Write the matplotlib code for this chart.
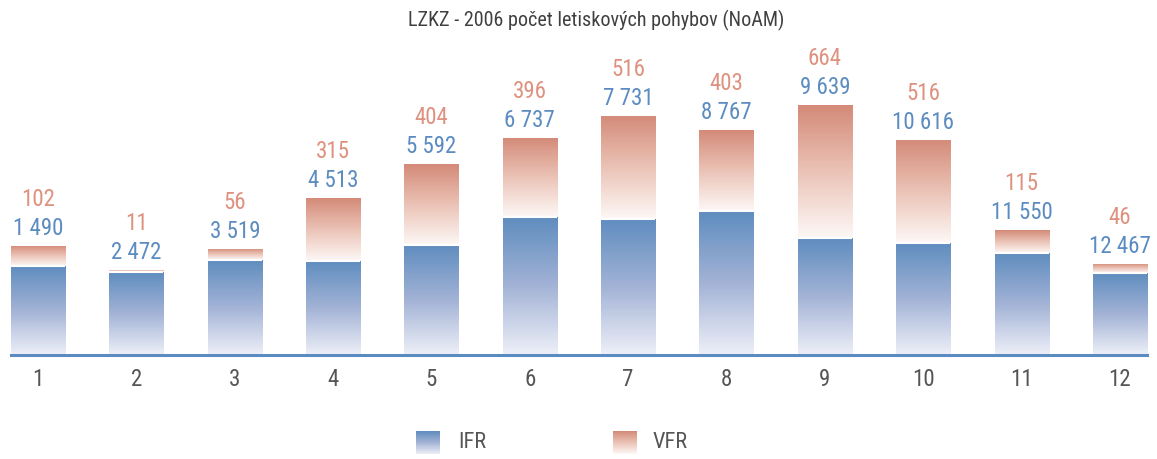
"""Stacked monthly bar chart of IFR / VFR movements at LZKZ in 2006."""

import matplotlib
matplotlib.use('Agg')
import matplotlib.pyplot as plt
import matplotlib.font_manager as fm
import numpy as np
from matplotlib.colors import LinearSegmentedColormap

# Data
months = ['1', '2', '3', '4', '5', '6', '7', '8', '9', '10', '11', '12']
ifr_values = [445, 415, 475, 470, 550, 690, 680, 720, 585, 560, 510, 410]
vfr_values = [102, 11, 56, 315, 404, 396, 516, 403, 664, 516, 115, 46]
ifr_labels = ['1 490', '2 472', '3 519', '4 513', '5 592', '6 737',
              '7 731', '8 767', '9 639', '10 616', '11 550', '12 467']
vfr_labels = [str(v) for v in vfr_values]

# Pick a narrow face if one is installed (reference uses a condensed font)
entries = fm.fontManager.ttflist
names = {f.name for f in entries}
family, stretch = 'Lato', 'normal'
if any(f.name == 'DejaVu Sans' and str(f.stretch) in ('condensed', 'semi-condensed')
       for f in entries):
    family, stretch = 'DejaVu Sans', 'condensed'
for cand in ['Liberation Sans Narrow', 'Roboto Condensed', 'Open Sans Condensed',
             'Noto Sans Condensed', 'Arial Narrow']:
    if cand in names:
        family, stretch = cand, 'normal'
        break
plt.rcParams['font.family'] = [family, 'DejaVu Sans']
plt.rcParams['font.stretch'] = stretch

BLUE = '#5b8bc0'
SALMON = '#df917f'
GREY = '#555555'
ifr_cmap = LinearSegmentedColormap.from_list('ifr', ['#eef0f8', '#a3b3d6', '#5f8dbf'])
vfr_cmap = LinearSegmentedColormap.from_list('vfr', ['#fdf8f6', '#ebc3b6', '#d48a78'])
grad = np.linspace(1, 0, 256).reshape(-1, 1)

fig = plt.figure(figsize=(11.57, 4.59), dpi=100)
ax = fig.add_axes([11 / 1157, 104 / 459, 1136 / 1157, 320 / 459])

x = np.arange(len(months))
width = 0.55


def gradient_bars(bars, cmap):
    for patch in bars:
        x0, y0 = patch.get_x(), patch.get_y()
        x1, y1 = x0 + patch.get_width(), y0 + patch.get_height()
        im = ax.imshow(grad, extent=(x0, x1, y0, y1), aspect='auto',
                       cmap=cmap, vmin=0, vmax=1, zorder=2)
        im.set_clip_path(patch)


ifr_bars = ax.bar(x, ifr_values, width, facecolor='none', edgecolor='none')
vfr_bars = ax.bar(x, vfr_values, width, bottom=ifr_values,
                  facecolor='none', edgecolor='none')
gradient_bars(ifr_bars, ifr_cmap)
gradient_bars(vfr_bars, vfr_cmap)

# White seam between the two segments
ax.hlines(ifr_values, x - width / 2, x + width / 2, color='white', lw=1.5, zorder=3)

totals = np.array(ifr_values) + np.array(vfr_values)
for xi, top, il, vl in zip(x, totals, ifr_labels, vfr_labels):
    ax.annotate(il, (xi, top), xytext=(0, 6), textcoords='offset pixels',
                ha='center', va='bottom', color=BLUE, fontsize=16.5)
    ax.annotate(vl, (xi, top), xytext=(0, 35), textcoords='offset pixels',
                ha='center', va='bottom', color=SALMON, fontsize=16.5)

ax.axhline(0, color=BLUE, lw=2.2, zorder=4, clip_on=False)
ax.set_xlim(-0.275, 11.275)
ax.set_ylim(0, 1600)
ax.set_xticks(x)
ax.set_xticklabels(months, fontsize=16.5, color=GREY)
ax.tick_params(axis='x', length=0, pad=9)
ax.set_yticks([])
for side in ax.spines.values():
    side.set_visible(False)

fig.text(0.515, 0.956, 'LZKZ - 2006 počet letiskových pohybov (NoAM)',
         ha='center', va='center', fontsize=14.5, color='#404040')

# Legend with gradient swatches
for left, cmap, label, tx in [(416, ifr_cmap, 'IFR', 458), (613, vfr_cmap, 'VFR', 653)]:
    lax = fig.add_axes([left / 1157, 5 / 459, 24 / 1157, 23 / 459])
    lax.imshow(grad, aspect='auto', cmap=cmap, vmin=0, vmax=1)
    lax.axis('off')
    fig.text(tx / 1157, 17 / 459, label, ha='left', va='center',
             fontsize=16, color=GREY)

fig.savefig('out.png', dpi=100)
